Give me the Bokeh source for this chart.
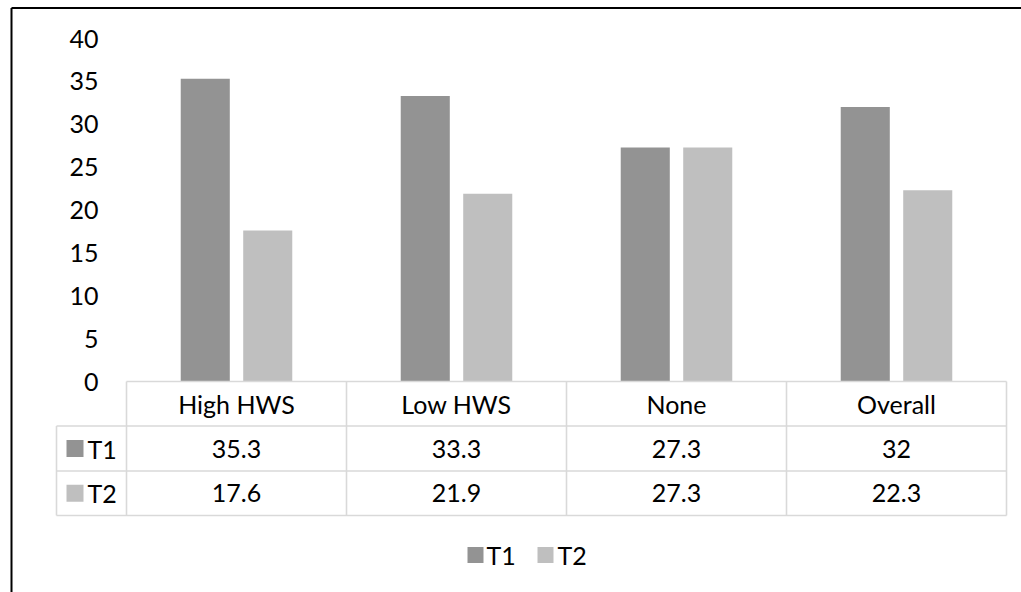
import numpy as np
from bokeh.plotting import figure
from bokeh.models import ColumnDataSource, Range1d
from bokeh.core.properties import value
from bokeh.embed import file_html
from bokeh.resources import INLINE

# --- data -------------------------------------------------------------
categories = ["High HWS", "Low HWS", "None", "Overall"]
series_names = ["T1", "T2"]
t1_values = [35.3, 33.3, 27.3, 32]
t2_values = [17.6, 21.9, 27.3, 22.3]
y_ticks = [0, 5, 10, 15, 20, 25, 30, 35, 40]

# --- styling / layout ---------------------------------------------------
W, H = 1021, 592
COL_W = 220.0            # pixel width of one category column
X0_PX = 126.0            # pixel x of the left edge of the first column
Y0_PX = 381.0            # pixel y (from top) of the value 0
PX_PER_UNIT = 343.0 / 40.0
COLORS = {"T1": "#939393", "T2": "#BFBFBF"}
GRID = "#D9D9D9"
FONT = value("Lato")
FSIZE = value("25px")
OFFSET = 0.142
BAR_W = 0.223

p = figure(
    width=W, height=H, min_border=0,
    x_axis_location=None, y_axis_location=None,
    toolbar_location=None, output_backend="svg",
    x_range=Range1d(-X0_PX / COL_W, (W - X0_PX) / COL_W),
    y_range=Range1d(-(H - Y0_PX) / PX_PER_UNIT, Y0_PX / PX_PER_UNIT),
)
p.grid.visible = False
p.outline_line_color = None
p.background_fill_color = "white"
p.border_fill_color = "white"

# pixel ranges for layout elements (y measured from the top)
p.extra_x_ranges = {"px": Range1d(0, W)}
p.extra_y_ranges = {"px": Range1d(H, 0)}

n = len(categories)
centers = np.arange(n) + 0.5

# --- bars ---------------------------------------------------------------
src = ColumnDataSource(dict(x=centers, cat=categories, T1=t1_values, T2=t2_values))
p.vbar(x=centers - OFFSET, top=t1_values, bottom=0, width=BAR_W,
       fill_color=COLORS["T1"], line_color=None)
p.vbar(x=centers + OFFSET, top=t2_values, bottom=0, width=BAR_W,
       fill_color=COLORS["T2"], line_color=None)

# --- value axis labels --------------------------------------------------
p.text(x=[98] * len(y_ticks), y=y_ticks, text=[str(t) for t in y_ticks],
       x_range_name="px", text_align="right", text_baseline="middle",
       text_font=FONT, text_font_size=FSIZE, text_color="black")

# --- data table below the plot ----------------------------------------
ROW_TOP, ROW1, ROW2, ROW_BOT = 381, 425.5, 470.5, 515
HDR_LEFT = 56

# horizontal rules
p.segment(x0=[0], y0=[ROW_TOP], x1=[n], y1=[ROW_TOP], y_range_name="px",
          line_color=GRID, line_width=1.6)
for yy in (ROW1, ROW2, ROW_BOT):
    p.segment(x0=[HDR_LEFT], y0=[yy], x1=[X0_PX + n * COL_W], y1=[yy],
              x_range_name="px", y_range_name="px", line_color=GRID, line_width=1.6)
# vertical rules
p.segment(x0=list(range(n + 1)), y0=[ROW_TOP] * (n + 1),
          x1=list(range(n + 1)), y1=[ROW_BOT] * (n + 1),
          y_range_name="px", line_color=GRID, line_width=1.6)
p.segment(x0=[HDR_LEFT], y0=[ROW1], x1=[HDR_LEFT], y1=[ROW_BOT],
          x_range_name="px", y_range_name="px", line_color=GRID, line_width=1.6)

# category header and values
p.text(x="x", y=(ROW_TOP + ROW1) / 2, text="cat", source=src, y_range_name="px",
       text_align="center", text_baseline="middle",
       text_font=FONT, text_font_size=FSIZE, text_color="black")
p.text(x=centers, y=[(ROW1 + ROW2) / 2] * n, text=[f"{v:g}" for v in t1_values],
       y_range_name="px", text_align="center", text_baseline="middle",
       text_font=FONT, text_font_size=FSIZE, text_color="black")
p.text(x=centers, y=[(ROW2 + ROW_BOT) / 2] * n, text=[f"{v:g}" for v in t2_values],
       y_range_name="px", text_align="center", text_baseline="middle",
       text_font=FONT, text_font_size=FSIZE, text_color="black")

# row headers with legend keys
row_mid = [(ROW1 + ROW2) / 2, (ROW2 + ROW_BOT) / 2]
p.rect(x=[74.5, 74.5], y=row_mid, width=17, height=17,
       x_range_name="px", y_range_name="px",
       fill_color=[COLORS[s] for s in series_names], line_color=None)
p.text(x=[87, 87], y=row_mid, text=series_names,
       x_range_name="px", y_range_name="px", text_align="left", text_baseline="middle",
       text_font=FONT, text_font_size=FSIZE, text_color="black")

# --- legend -------------------------------------------------------------
LEG_Y = 554.5
p.rect(x=[475, 545], y=[LEG_Y, LEG_Y], width=16, height=16,
       x_range_name="px", y_range_name="px",
       fill_color=[COLORS[s] for s in series_names], line_color=None)
p.text(x=[486, 557], y=[LEG_Y, LEG_Y], text=series_names,
       x_range_name="px", y_range_name="px", text_align="left", text_baseline="middle",
       text_font=FONT, text_font_size=FSIZE, text_color="black")

# --- chart border ---------------------------------------------------------
p.segment(x0=[11, 11], y0=[7.5, 7.5], x1=[11, W + 5], y1=[H + 5, 7.5],
          x_range_name="px", y_range_name="px", line_color="black", line_width=2)

open("out.html", "w").write(file_html(p, INLINE))
